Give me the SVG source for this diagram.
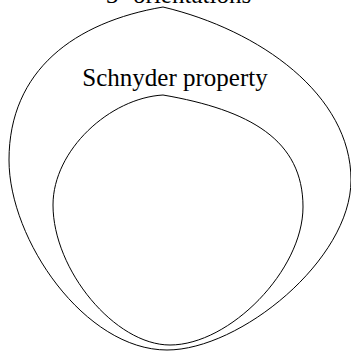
<svg xmlns="http://www.w3.org/2000/svg" width="351" height="351" viewBox="0 0 351 351">
<style>
.set{fill:none;stroke:#000;stroke-width:1}
.lbl{font-family:"Liberation Serif","Times New Roman",serif;font-size:25px;fill:#000}
</style>
<rect width="351" height="351" fill="#fff"/>
<g id="outer">
<path class="set" d="M163,7 C260,30 351,95 351,180 C351,260 240,350 167,350 C85,350 9,240 9,160 C9,70 75,22 163,7 Z"/>
<text class="lbl" x="106" y="2.5">3- orientations</text>
</g>
<g id="inner">
<path class="set" d="M163,95 C250,110 303,140 303,207 C303,270 230,345 170,345 C115,345 53,270 53,205 C53,150 110,98 163,95 Z"/>
<text class="lbl" x="175" y="86" text-anchor="middle">Schnyder property</text>
</g>
<g id="connectors"/>
</svg>
